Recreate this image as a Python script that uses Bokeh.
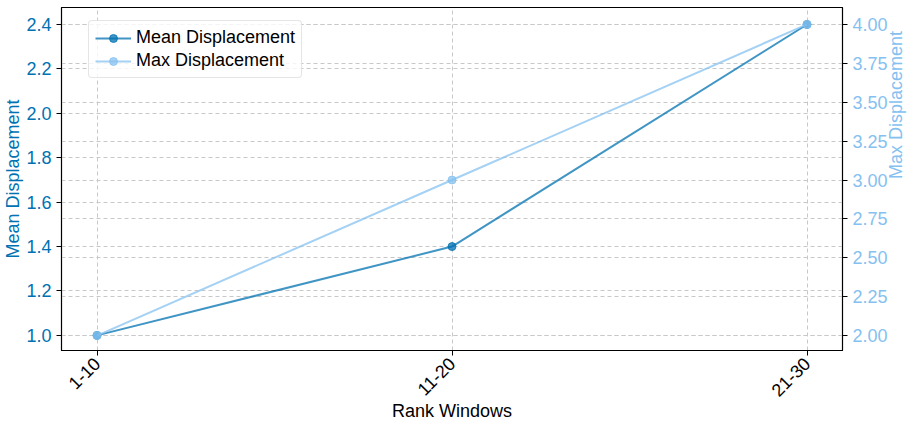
import math
from bokeh.plotting import figure
from bokeh.models import (Range1d, LinearAxis, FixedTicker, Grid, Legend, LegendItem,
                          ColumnDataSource, NumeralTickFormatter)
from bokeh.embed import file_html
from bokeh.resources import INLINE

categories = ["1-10", "11-20", "21-30"]
mean_disp = [1.0, 1.4, 2.4]
max_disp = [2.0, 3.0, 4.0]
left_ticks = [1.0, 1.2, 1.4, 1.6, 1.8, 2.0, 2.2, 2.4]
right_ticks = [2.0, 2.25, 2.5, 2.75, 3.0, 3.25, 3.5, 3.75, 4.0]

C_MEAN = "#0072B2"
C_MAX = "#85C1F0"
FONT = "Liberation Sans"
FS = "18px"

xs = list(range(len(categories)))
src = ColumnDataSource(dict(x=xs, mean=mean_disp, mx=max_disp))

p = figure(output_backend="svg", toolbar_location=None,
           frame_width=781, frame_height=343,
           x_range=Range1d(-0.1, 2.1), y_range=Range1d(0.932, 2.4765),
           min_border_left=56, min_border_right=60, min_border_top=7, min_border_bottom=70)
p.extra_y_ranges = {"right": Range1d(1.904, 4.109)}

p.outline_line_color = "black"
p.outline_line_width = 1.2
p.outline_line_alpha = 1

# x axis
p.xaxis.ticker = FixedTicker(ticks=xs)
p.xaxis.major_label_overrides = {i: c for i, c in enumerate(categories)}
p.xaxis.major_label_orientation = math.pi / 4
p.xaxis.axis_label = "Rank Windows"
p.xaxis.axis_label_standoff = -4
p.xaxis.axis_label_text_font = FONT
p.xaxis.axis_label_text_font_style = "normal"
p.xaxis.axis_label_text_font_size = FS
p.xaxis.axis_label_text_color = "black"
p.xaxis.major_label_text_font = FONT
p.xaxis.major_label_text_font_size = FS
p.xaxis.major_label_text_color = "black"
p.xaxis.minor_tick_line_color = None
p.xaxis.major_tick_out = 5
p.xaxis.major_tick_in = 0
p.xaxis.axis_line_color = "black"

# left y axis
p.yaxis.ticker = FixedTicker(ticks=left_ticks)
p.yaxis.formatter = NumeralTickFormatter(format="0.0")
p.yaxis.axis_label = "Mean Displacement"
p.yaxis.axis_label_standoff = 0
p.yaxis.axis_label_text_color = C_MEAN
p.yaxis.axis_label_text_font = FONT
p.yaxis.axis_label_text_font_style = "normal"
p.yaxis.axis_label_text_font_size = FS
p.yaxis.major_label_text_color = C_MEAN
p.yaxis.major_label_text_font = FONT
p.yaxis.major_label_text_font_size = FS
p.yaxis.minor_tick_line_color = None
p.yaxis.major_tick_out = 5
p.yaxis.major_tick_in = 0
p.yaxis.axis_line_color = "black"

# right y axis
rax = LinearAxis(y_range_name="right", ticker=FixedTicker(ticks=right_ticks),
                 formatter=NumeralTickFormatter(format="0.00"))
rax.axis_label = "Max Displacement"
rax.axis_label_orientation = math.pi / 2
rax.axis_label_text_color = C_MAX
rax.axis_label_text_font = FONT
rax.axis_label_text_font_style = "normal"
rax.axis_label_text_font_size = FS
rax.major_label_text_color = C_MAX
rax.major_label_text_font = FONT
rax.major_label_text_font_size = FS
rax.minor_tick_line_color = None
rax.major_tick_out = 5
rax.major_tick_in = 0
rax.axis_line_color = "black"
p.add_layout(rax, "right")

# grids
for g in (p.xgrid, p.ygrid):
    g.grid_line_color = "#c8c8c8"
    g.grid_line_dash = "4 3"
    g.grid_line_width = 1
p.ygrid.ticker = FixedTicker(ticks=left_ticks)
rgrid = Grid(dimension=1, ticker=FixedTicker(ticks=right_ticks), y_range_name="right",
             grid_line_color="#c8c8c8", grid_line_dash="4 3", grid_line_width=1)
p.add_layout(rgrid)

# lines
l1 = p.line("x", "mean", source=src, line_color=C_MEAN, line_width=2, line_alpha=0.75)
c1 = p.scatter("x", "mean", source=src, size=8, fill_color=C_MEAN, line_color=C_MEAN,
               fill_alpha=0.75, line_alpha=0.75)
l2 = p.line("x", "mx", source=src, line_color=C_MAX, line_width=2, line_alpha=0.75,
            y_range_name="right")
c2 = p.scatter("x", "mx", source=src, size=8, fill_color=C_MAX, line_color=C_MAX,
               fill_alpha=0.75, line_alpha=0.75, y_range_name="right")

legend = Legend(items=[LegendItem(label="Mean Displacement", renderers=[l1, c1]),
                       LegendItem(label="Max Displacement", renderers=[l2, c2])],
                location=(27, 272))
legend.label_text_font = FONT
legend.label_text_font_size = FS
legend.label_text_color = "black"
legend.border_line_color = "#cccccc"
legend.border_line_width = 1
legend.background_fill_alpha = 0.8
legend.border_radius = 4
legend.glyph_width = 36
legend.spacing = 2
legend.padding = 6
legend.margin = 0
p.add_layout(legend, "center")

open("out.html", "w").write(file_html(p, INLINE))
